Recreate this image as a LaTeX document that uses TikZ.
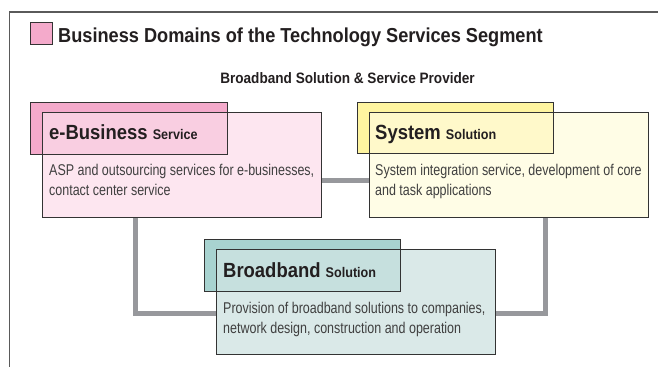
\documentclass[tikz,border=0pt]{standalone}
\usepackage{fontspec}
\setmainfont{Liberation Sans}[FakeStretch=0.8]
\newfontfamily\headfont{Liberation Sans}[FakeStretch=0.9]
\usetikzlibrary{calc}
\definecolor{framegray}{HTML}{5A5A5A}
\definecolor{linkgray}{HTML}{97989C}
\definecolor{edgedark}{HTML}{333333}
\definecolor{textdark}{HTML}{231F20}
\definecolor{bodytext}{HTML}{404040}
\definecolor{pinkhead}{HTML}{F4AACB}
\definecolor{pinkbody}{HTML}{FDE6F0}
\definecolor{yellowhead}{HTML}{FFF5A0}
\definecolor{yellowbody}{HTML}{FFFDE6}
\definecolor{tealhead}{HTML}{A8D3D0}
\definecolor{tealbody}{HTML}{DAE9E8}
\tikzset{
  x=1pt, y=-1pt,
  link/.style={draw=linkgray, line width=5pt},
  panel/.style={draw=none, anchor=north west, inner sep=0pt, outer sep=0pt},
  headtitle/.style={anchor=base west, inner sep=0pt, text=textdark, font=\headfont\fontsize{20.5}{24}\selectfont\bfseries},
  bodytxt/.style={anchor=north west, inner sep=0pt, text=bodytext, align=left, font=\fontsize{15.6}{20}\selectfont},
}
\newcommand{\subword}[1]{{\fontsize{14}{16}\selectfont #1}}
% fills one domain card: tab colour, panel colour, tab over panel blended
\newcommand{\cardfill}[4]{%
  \fill[#4] (#2.north west) rectangle (#2.south east);
  \fill[#3] (#1.north west) rectangle (#1.south east);
  \fill[#4, fill opacity=0.6] (#2.north west) rectangle (#1.south east);
}
\begin{document}
\begin{tikzpicture}
\useasboundingbox (0,0) rectangle (658,367);
\fill[white] (0,0) rectangle (658,367);

% outer frame (top and left edges only)
\draw[framegray, line width=1.4pt] (658,12) -- (9.5,12) -- (9.5,367);

% heading
\node[draw=edgedark, line width=0.8pt, fill=pinkhead, minimum width=22pt, minimum height=22pt, inner sep=0pt, anchor=north west] (legend) at (30,22) {};
\node[anchor=base west, inner sep=0pt, text=textdark, font=\headfont\fontsize{20.2}{24}\selectfont\bfseries] (heading) at (58,42) {Business Domains of the Technology Services Segment};
\node[anchor=base, inner sep=0pt, text=textdark, font=\headfont\fontsize{15.1}{17}\selectfont\bfseries] (provider) at (347.5,83) {Broadband Solution \& Service Provider};

% box frames as named nodes (fills drawn below)
\path (30,102) node[panel, minimum width=197pt, minimum height=52pt] (ehead) {};
\path (42,112) node[panel, minimum width=279pt, minimum height=105pt] (ebox) {};
\path (357,102) node[panel, minimum width=196pt, minimum height=51pt] (shead) {};
\path (369,112) node[panel, minimum width=279pt, minimum height=105pt] (sbox) {};
\path (204,239) node[panel, minimum width=196pt, minimum height=52pt] (bhead) {};
\path (216,249) node[panel, minimum width=279pt, minimum height=105pt] (bbox) {};

% connectors
\draw[link] ($(ebox.north east)+(0,68)$) -- ($(sbox.north west)+(0,68)$);
\draw[link] ([xshift=93pt]ebox.south west) |- ([yshift=-11.5pt]bbox.west);
\draw[link] ([yshift=-11.5pt]bbox.east) -| ([xshift=-103pt]sbox.south east);

% coloured fills
\cardfill{ehead}{ebox}{pinkhead}{pinkbody}
\cardfill{shead}{sbox}{yellowhead}{yellowbody}
\cardfill{bhead}{bbox}{tealhead}{tealbody}

% outlines
\foreach \n in {ehead,ebox,shead,sbox,bhead,bbox}
  \draw[edgedark, line width=0.9pt] (\n.north west) rectangle (\n.south east);

% texts
\node[headtitle] (etitle) at (49,139) {e-Business \subword{Service}};
\node[bodytxt] (etext) at (49,164) {ASP and outsourcing services for e-businesses,\\contact center service};

\node[headtitle] (stitle) at (375,139) {System \subword{Solution}};
\node[bodytxt] (stext) at (375,164) {System integration service, development of core\\and task applications};

\node[headtitle] (btitle) at (223,277) {Broadband \subword{Solution}};
\node[bodytxt] (btext) at (223,302) {Provision of broadband solutions to companies,\\network design, construction and operation};
\end{tikzpicture}
\end{document}
